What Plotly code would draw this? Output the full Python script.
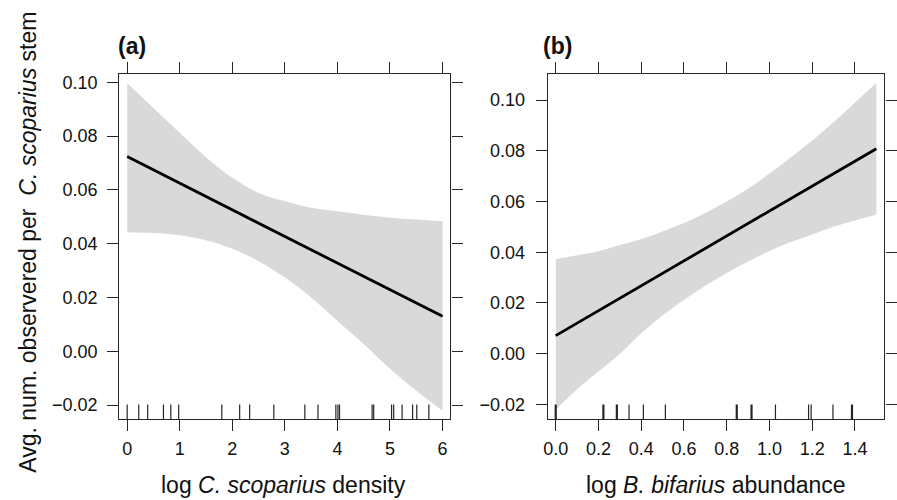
import plotly.graph_objects as go

# ---------------- data ----------------
# Panel (a): log C. scoparius density
a_x = [0, 0.5, 1, 1.5, 2, 2.5, 3, 3.5, 4, 4.5, 5, 5.5, 6]
a_upper = [0.0997, 0.0905, 0.0813, 0.0722, 0.0645, 0.0589, 0.0558, 0.0534, 0.0521, 0.0508, 0.0497, 0.0490, 0.0484]
a_lower = [0.0443, 0.0440, 0.0432, 0.0413, 0.0381, 0.0335, 0.0274, 0.0200, 0.0113, 0.0027, -0.0065, -0.0147, -0.0221]
a_fit_x = [0, 6]
a_fit_y = [0.0724, 0.0130]
a_rug = [0.0, 0.22, 0.39, 0.69, 0.83, 0.98, 1.80, 2.14, 2.33, 2.79, 3.38, 3.63, 3.97,
         4.01, 4.04, 4.66, 4.69, 5.03, 5.07, 5.23, 5.43, 5.51, 5.74]
a_rug_counts = [1] * len(a_rug)
a_xticks = [0, 1, 2, 3, 4, 5, 6]

# Panel (b): log B. bifarius abundance
b_x = [0, 0.1, 0.2, 0.3, 0.4, 0.5, 0.6, 0.7, 0.8, 0.9, 1.0, 1.1, 1.2, 1.3, 1.4, 1.5]
b_upper = [0.0372, 0.0388, 0.0404, 0.0428, 0.0452, 0.0482, 0.0515, 0.0555, 0.0600, 0.0650,
           0.0710, 0.0773, 0.0840, 0.0912, 0.0990, 0.1067]
b_lower = [-0.0221, -0.0140, -0.0070, -0.0001, 0.0080, 0.0150, 0.0212, 0.0268, 0.0318, 0.0363,
           0.0405, 0.0440, 0.0470, 0.0500, 0.0525, 0.0548]
b_fit_x = [0, 1.5]
b_fit_y = [0.0071, 0.0808]
b_rug = [0.0, 0.223, 0.286, 0.343, 0.410, 0.513, 0.847, 0.916, 1.028, 1.183, 1.195, 1.297, 1.386]
b_rug_counts = [2, 2, 2, 1, 1, 1, 2, 2, 1, 1, 1, 1, 2]
b_xticks = [0.0, 0.2, 0.4, 0.6, 0.8, 1.0, 1.2, 1.4]

y_ticks = [-0.02, 0.00, 0.02, 0.04, 0.06, 0.08, 0.10]

# ---------------- styling ----------------
FONT = "Liberation Sans, Arial, Helvetica, sans-serif"
AX = "#262626"
BAND = "#D9D9D9"
W, H = 897, 500

fig = go.Figure()

def add_panel(xs, up, lo, fx, fy, xa, ya):
    fig.add_trace(go.Scatter(
        x=xs, y=lo, mode="lines", line=dict(width=0, color=BAND, shape="spline", smoothing=1.0),
        hoverinfo="skip", showlegend=False, xaxis=xa, yaxis=ya))
    fig.add_trace(go.Scatter(
        x=xs, y=up, mode="lines", fill="tonexty", fillcolor=BAND,
        line=dict(width=0, color=BAND, shape="spline", smoothing=1.0),
        hoverinfo="skip", showlegend=False, xaxis=xa, yaxis=ya))
    fig.add_trace(go.Scatter(
        x=fx, y=fy, mode="lines", line=dict(color="black", width=2.8),
        showlegend=False, xaxis=xa, yaxis=ya))

add_panel(a_x, a_upper, a_lower, a_fit_x, a_fit_y, "x", "y")
add_panel(b_x, b_upper, b_lower, b_fit_x, b_fit_y, "x2", "y2")

# rugs (inside, along bottom of each panel)
RUG_FRAC = 0.043
for vals, counts, xr, yr in [(a_rug, a_rug_counts, "x", "y domain"),
                             (b_rug, b_rug_counts, "x2", "y2 domain")]:
    for v, c in zip(vals, counts):
        fig.add_shape(type="line", xref=xr, yref=yr, x0=v, x1=v, y0=0, y1=RUG_FRAC,
                      line=dict(color=AX, width=1.2 if c == 1 else 2.2), layer="above")

axis_common = dict(showline=True, linecolor=AX, linewidth=1.3, mirror="allticks",
                   ticks="outside", ticklen=11, tickwidth=1.3, tickcolor=AX,
                   showgrid=False, zeroline=False,
                   tickfont=dict(family=FONT, size=18, color="#111111"))

ydom = [(H - 419) / H, (H - 72.7) / H]

fig.update_layout(
    width=W, height=H,
    margin=dict(l=0, r=0, t=0, b=0),
    paper_bgcolor="white", plot_bgcolor="white",
    showlegend=False,
    xaxis=dict(domain=[117 / W, 453 / W], range=[-0.15, 6.15], tickvals=a_xticks,
               anchor="y", ticklabelstandoff=2, **axis_common),
    yaxis=dict(domain=ydom, range=[-0.0253, 0.10297], tickvals=y_ticks, tickformat=".2f",
               anchor="x", ticklabelstandoff=6, **axis_common),
    xaxis2=dict(domain=[551.7 / W, 893.3 / W], range=[-0.0375, 1.5375], tickvals=b_xticks,
                tickformat=".1f", anchor="y2", ticklabelstandoff=2, **axis_common),
    yaxis2=dict(domain=ydom, range=[-0.0259, 0.1101], tickvals=y_ticks, tickformat=".2f",
                anchor="x2", ticklabelstandoff=7, **axis_common),
)

ann_font = dict(family=FONT, size=23, color="#111111")
panel_font = dict(family=FONT, size=23, color="#111111")

def ann(text, xpx, ypx, font, angle=0):
    fig.add_annotation(text=text, x=xpx / W, y=(H - ypx) / H, xref="paper", yref="paper",
                       xanchor="center", yanchor="middle", showarrow=False,
                       textangle=angle, font=font)

ann("<b>(a)</b>", 130, 44, panel_font)
ann("<b>(b)</b>", 561.5, 44, panel_font)
ann("log <i>C. scoparius</i> density", 284, 485, ann_font)
ann("log <i>B. bifarius</i> abundance", 722.5, 485, ann_font)
ann("Avg. num. observered per\u00a0\u00a0<i>C. scoparius</i> stem", 24, 241, ann_font, angle=-90)

fig.write_html("out.html", config={"displayModeBar": False},
               post_script="document.body.style.margin='0px';")
